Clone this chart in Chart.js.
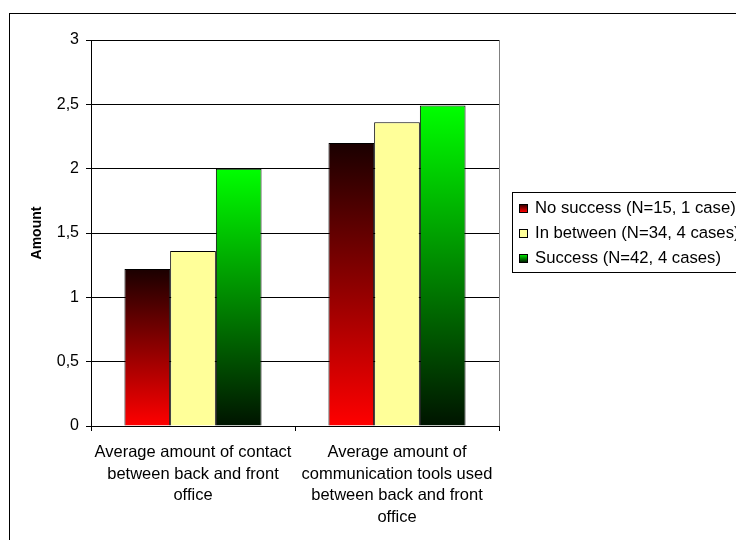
<!DOCTYPE html>
<html>
<head>
<meta charset="utf-8">
<title>Amount by success group</title>
<script src="https://cdn.jsdelivr.net/npm/chart.js@4/dist/chart.umd.min.js"></script>
<style>
  html, body { margin: 0; padding: 0; background: #fff; overflow: hidden; }
  #chart { display: block; }
</style>
</head>
<body>
<canvas id="chart" width="800" height="580"></canvas>
<script>
// Categories and series values
const categories = [
  ["Average amount of contact", "between back and front", "office"],
  ["Average amount of", "communication tools used", "between back and front", "office"],
];
const seriesLabels = [
  "No success (N=15, 1 case)",
  "In between (N=34, 4 cases)",
  "Success (N=42, 4 cases)",
];
const noSuccess = [1.22, 2.2];
const inBetween = [1.36, 2.36];
const success = [2.0, 2.49];
const yTicks = [0, 0.5, 1, 1.5, 2, 2.5, 3];

const FONT = "'Liberation Sans', Arial, sans-serif";
Chart.defaults.font.family = FONT;
Chart.defaults.color = "#000";

// vertical gradient over one bar, from its top to the zero line
function barGradient(topColor, bottomColor) {
  return (context) => {
    const chart = context.chart;
    const yScale = chart.scales.y;
    if (!chart.chartArea || !yScale || context.raw == null) return bottomColor;
    const top = yScale.getPixelForValue(context.raw);
    const base = yScale.getPixelForValue(0);
    const g = chart.ctx.createLinearGradient(0, top, 0, base);
    g.addColorStop(0, topColor);
    g.addColorStop(1, bottomColor);
    return g;
  };
}

const legendFills = [
  ["#200000", "#ff0000"],
  ["#ffff99", "#ffff99"],
  ["#00ff00", "#002000"],
];

// outer frame and gray plot-area border, drawn under the axes
const frame = {
  id: "frame",
  beforeDraw(chart) {
    const { ctx, chartArea } = chart;
    ctx.save();
    ctx.strokeStyle = "#000";
    ctx.lineWidth = 1;
    ctx.strokeRect(9.5, 13.5, chart.width, chart.height);
    ctx.strokeStyle = "#808080";
    ctx.strokeRect(
      Math.round(chartArea.left) + 0.5,
      Math.round(chartArea.top) + 0.5,
      Math.round(chartArea.right - chartArea.left),
      Math.round(chartArea.bottom - chartArea.top)
    );
    ctx.restore();
  },
};

// boxed legend on the right
const legendBox = {
  id: "legendBox",
  afterDraw(chart) {
    const ctx = chart.ctx;
    ctx.save();
    ctx.fillStyle = "#fff";
    ctx.fillRect(512, 192, 300, 81);
    ctx.strokeStyle = "#000";
    ctx.lineWidth = 1;
    ctx.strokeRect(512.5, 192.5, 300, 80);
    ctx.font = "16.7px " + FONT;
    ctx.textBaseline = "middle";
    chart.data.datasets.forEach((ds, i) => {
      const cy = 208 + i * 25;
      const g = ctx.createLinearGradient(0, cy - 4, 0, cy + 4);
      g.addColorStop(0, legendFills[i][0]);
      g.addColorStop(1, legendFills[i][1]);
      ctx.fillStyle = g;
      ctx.fillRect(519, cy - 4, 8, 8);
      ctx.strokeStyle = "#000";
      ctx.strokeRect(519.5, cy - 3.5, 8, 8);
      ctx.fillStyle = "#000";
      ctx.fillText(ds.label, 535, cy);
    });
    ctx.restore();
  },
};

new Chart(document.getElementById("chart"), {
  type: "bar",
  data: {
    labels: categories,
    datasets: [
      {
        label: seriesLabels[0],
        data: noSuccess,
        backgroundColor: barGradient("#1a0000", "#ff0000"),
        borderColor: "#000",
        borderWidth: 1,
      },
      {
        label: seriesLabels[1],
        data: inBetween,
        backgroundColor: "#ffff99",
        borderColor: "#000",
        borderWidth: 1,
      },
      {
        label: seriesLabels[2],
        data: success,
        backgroundColor: barGradient("#00ff00", "#001400"),
        borderColor: "#000",
        borderWidth: 1,
      },
    ],
  },
  options: {
    responsive: false,
    animation: false,
    devicePixelRatio: 1,
    categoryPercentage: 0.672,
    barPercentage: 1,
    layout: {
      padding: { top: 40, right: 301, bottom: 0, left: 0 },
    },
    plugins: {
      legend: { display: false },
      tooltip: { enabled: false },
    },
    scales: {
      x: {
        afterFit: (scale) => { scale.height = 154; },
        grid: {
          offset: true,
          drawOnChartArea: false,
          drawTicks: true,
          tickLength: 5,
          color: "#000",
        },
        border: { color: "#000" },
        ticks: {
          autoSkip: false,
          maxRotation: 0,
          minRotation: 0,
          padding: 11,
          color: "#000",
          font: { size: 16.5, lineHeight: 1.3 },
        },
      },
      y: {
        min: 0,
        max: 3,
        afterFit: (scale) => { scale.width = 91; },
        afterBuildTicks: (scale) => {
          scale.ticks = yTicks.map((v) => ({ value: v }));
        },
        grid: {
          color: "#000",
          tickLength: 5,
        },
        border: { color: "#000" },
        ticks: {
          padding: 7,
          color: "#000",
          font: { size: 16 },
          callback: (v) => String(v).replace(".", ","),
        },
        title: {
          display: true,
          text: "Amount",
          color: "#000",
          font: { size: 14, weight: "bold" },
          padding: { top: 29, bottom: 0 },
        },
      },
    },
  },
  plugins: [frame, legendBox],
});
</script>
</body>
</html>
